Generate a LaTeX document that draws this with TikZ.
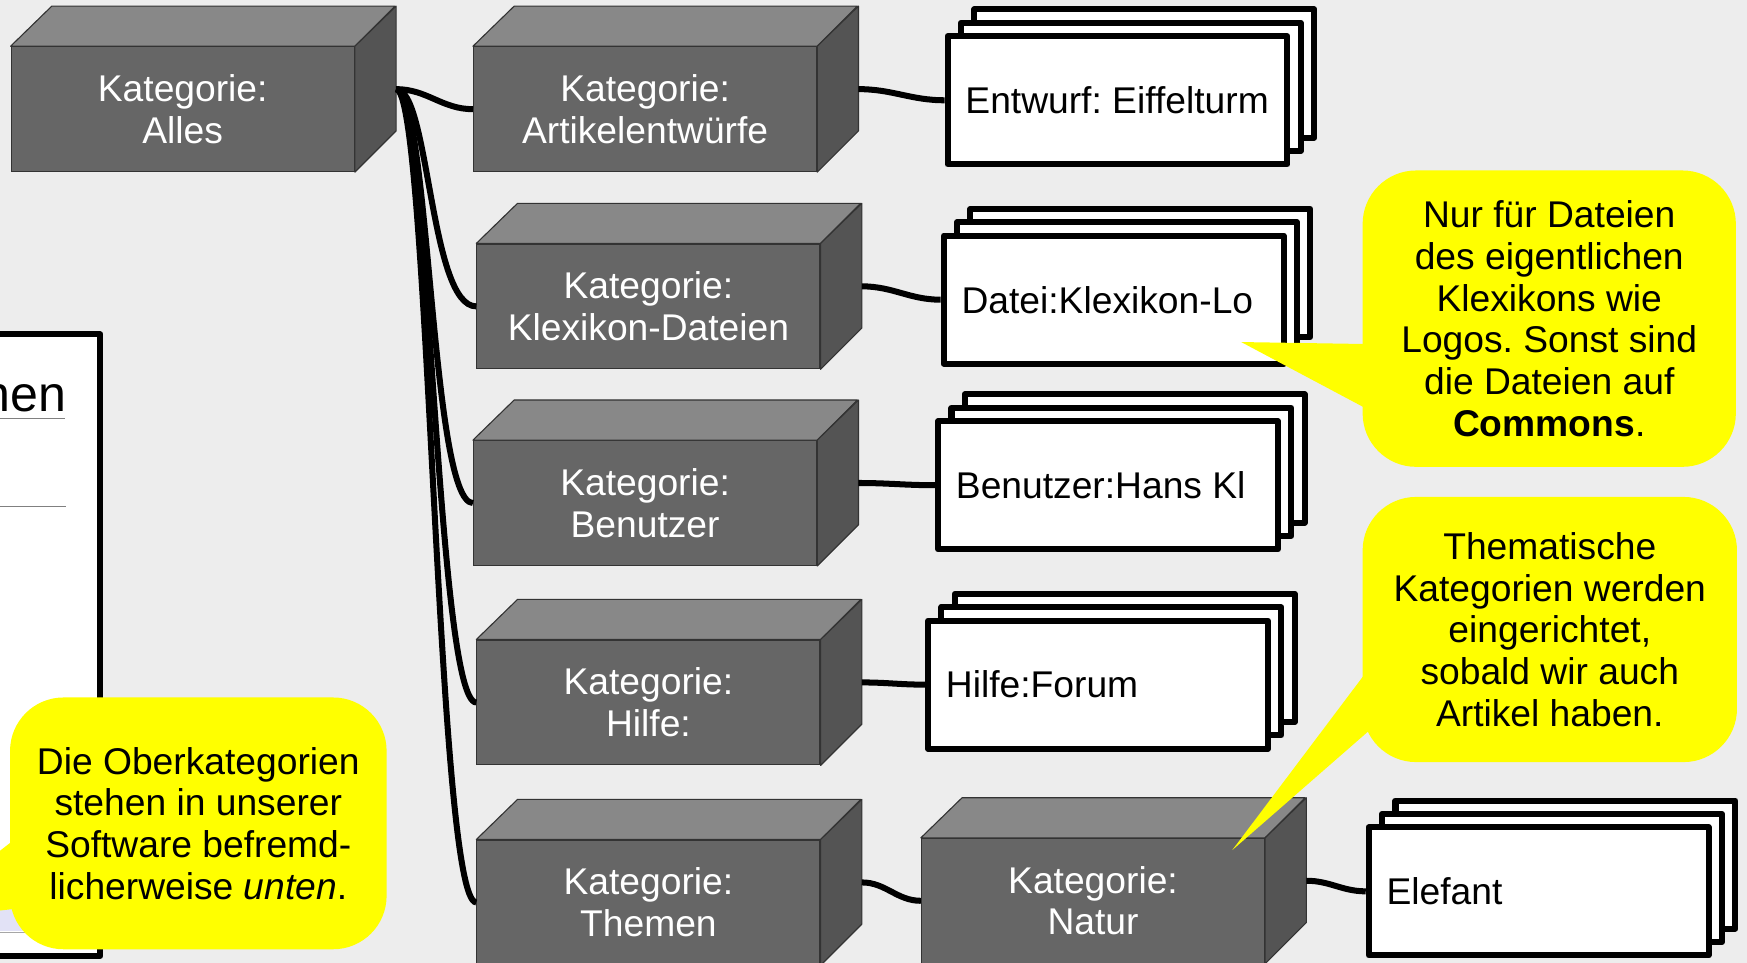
\documentclass[tikz,border=0pt]{standalone}
\usepackage{fontspec}
\setmainfont{Liberation Sans}
\usetikzlibrary{calc}
\frenchspacing

\definecolor{bggrey}{HTML}{EDEDED}
\definecolor{boxfront}{HTML}{666666}
\definecolor{boxtop}{HTML}{888888}
\definecolor{boxside}{HTML}{545454}
\definecolor{boxline}{HTML}{333333}
\definecolor{noteyellow}{HTML}{FFFF00}
\definecolor{panelblue}{HTML}{E2E2F6}
\definecolor{rulegrey}{HTML}{808080}

\tikzset{
  catbox/.style={fill=boxfront, draw=boxline, line width=1pt, minimum width=308pt,
    minimum height=112pt, inner sep=0pt, text=white, align=center,
    font=\fontsize{33.4}{37.4}\selectfont},
  docsheet/.style={fill=white, draw=black, line width=5.4pt, line join=round,
    minimum width=305pt, minimum height=115pt, inner sep=0pt},
  doctext/.style={docsheet, inner xsep=16pt,
    font=\fontsize{33.4}{37.4}\selectfont},
  hint/.style={fill=noteyellow, rounded corners=48pt, inner sep=0pt, align=center,
    font=\fontsize{33.4}{37.4}\selectfont},
  link/.style={draw=black, line width=5.4pt},
}

% top and right face of a category box
\newcommand{\boxfaces}[1]{%
  \filldraw[fill=boxtop, draw=boxline, line width=1pt, line join=round]
    (#1.north west) -- ++(37,-36) -- ++(308,0) -- (#1.north east) -- cycle;
  \filldraw[fill=boxside, draw=boxline, line width=1pt, line join=round]
    (#1.north east) -- ++(37,-36) -- ++(0,112) -- (#1.south east) -- cycle;
  \coordinate (#1-out) at ($(#1.east)+(37,-18)$);
}

% stack of three pages
\newcommand{\docstack}[4]{%
  \node[docsheet] (#1-back) at (#2+24,#3-24) {};
  \node[docsheet] (#1-mid) at (#2+12,#3-12) {};
  \node[doctext] (#1) at (#2,#3) {\makebox[273pt][l]{#4}};
}

\begin{document}
\begin{tikzpicture}[x=1pt, y=-1pt]
    % Background
    \useasboundingbox (0,0) rectangle (1568,864.3);
    \clip (0,0) rectangle (1568,864.3);
    \fill[bggrey] (0,0) rectangle (1568,864.3);

    % Page on the left
    \draw[line width=5.4pt, line join=round, fill=white] (-20,300) rectangle (90,858);
    \node[anchor=base east, inner sep=0pt, font=\fontsize{45}{50}\selectfont] (heading) at (60,369.5) {hen};
    \draw[rulegrey, line width=1.5pt] (0,375.5) -- (58,375.5);
    \draw[rulegrey, line width=1.5pt] (0,454.7) -- (59,454.7);
    \fill[panelblue] (-10,815) rectangle (85,836);
    \draw[rulegrey!70, line width=1.5pt] (-10,837) -- (85,837);

    % Category boxes
    \node[catbox] (alles) at (164,98) {Kategorie:\\Alles};
    \boxfaces{alles}
    \node[catbox] (artikel) at (579,98) {Kategorie:\\Artikelentwürfe};
    \boxfaces{artikel}
    \node[catbox] (dateien) at (582,275) {Kategorie:\\Klexikon-Dateien};
    \boxfaces{dateien}
    \node[catbox] (benutzer) at (579,451.5) {Kategorie:\\Benutzer};
    \boxfaces{benutzer}
    \node[catbox] (hilfe) at (582,630.5) {Kategorie:\\Hilfe:};
    \boxfaces{hilfe}
    \node[catbox] (themen) at (582,810) {Kategorie:\\Themen};
    \boxfaces{themen}
    \node[catbox] (natur) at (981,808.5) {Kategorie:\\Natur};
    \boxfaces{natur}

    % Pages in the categories
    \docstack{entwurf}{1003}{90}{Entwurf: Eiffelturm}
    \docstack{datei}{999.5}{269}{Datei:Klexikon-Lo}
    \docstack{hans}{994.5}{435.5}{Benutzer:Hans Kl}
    \docstack{forum}{985.5}{614.5}{Hilfe:Forum}
    \docstack{elefant}{1381}{800}{Elefant}

    % Links from the top category
    \draw[link] (alles-out) to[out=0,in=180] (artikel.west);
    \draw[link] (alles-out) .. controls +(30,0) and +(-42,0) .. (dateien.west);
    \draw[link] (alles-out) .. controls +(30,0) and +(-38,0) .. (benutzer.west);
    \draw[link] (alles-out) .. controls +(30,0) and +(-36,0) .. (hilfe.west);
    \draw[link] (alles-out) .. controls +(30,0) and +(-36,0) .. (themen.west);

    % Links to the pages
    \draw[link] (artikel-out) to[out=0,in=180] (entwurf.west);
    \draw[link] (dateien-out) to[out=0,in=180] (datei.west);
    \draw[link] (benutzer-out) to[out=0,in=180] (hans.west);
    \draw[link] (hilfe-out) to[out=0,in=180] (forum.west);
    \draw[link] (themen-out) to[out=0,in=180] (natur.west);
    \draw[link] (natur-out) to[out=0,in=180] (elefant.west);

    % Callouts
    \fill[noteyellow] (20,748) -- (-80,826) -- (20,815) -- cycle;
    \node[hint, minimum width=338pt, minimum height=226pt] (oben) at (178,739)
        {Die Oberkategorien\\stehen in unserer\\Software befremd-\\licherweise \textit{unten}.};
    \fill[noteyellow] (1114,307) -- (1240,309) -- (1240,374) -- cycle;
    \node[hint, minimum width=335pt, minimum height=266pt] (commons) at (1390.5,286)
        {Nur für Dateien\\des eigentlichen\\Klexikons wie\\Logos. Sonst sind\\die Dateien auf\\\textbf{Commons}.};
    \fill[noteyellow] (1106,763) -- (1240,585) -- (1240,646) -- cycle;
    \node[hint, minimum width=336pt, minimum height=238pt] (thema) at (1391,565)
        {Thematische\\Kategorien werden\\eingerichtet,\\sobald wir auch\\Artikel haben.};
\end{tikzpicture}
\end{document}
